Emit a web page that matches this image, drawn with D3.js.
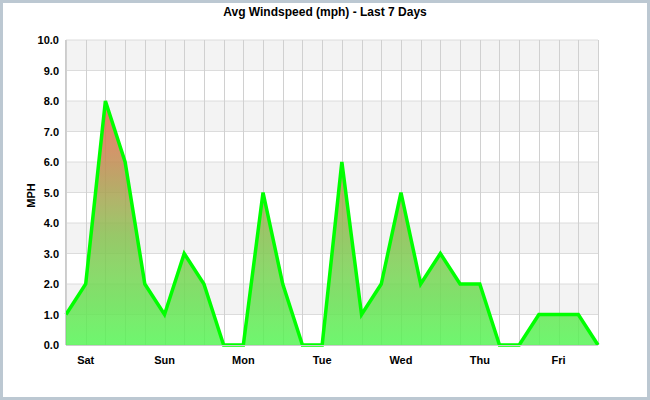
<!DOCTYPE html>
<meta charset="utf-8">
<title>Avg Windspeed</title>
<style>
body { margin: 0; }
svg { font-family: "Liberation Sans", Arial, sans-serif; }
</style>
<body>
<script src="https://cdn.jsdelivr.net/npm/d3@7"></script>
<script>

var speeds = [1, 2, 8, 6, 2, 1, 3, 2, 0, 0, 5, 2, 0, 0, 6, 1, 2, 5, 2, 3, 2, 2, 0, 0, 1, 1, 1, 0];
var days = ["Sat", "Sun", "Mon", "Tue", "Wed", "Thu", "Fri"];
var yTicks = [0, 1, 2, 3, 4, 5, 6, 7, 8, 9, 10];

var W = 650, H = 400,
    m = {top: 40, right: 50, bottom: 55, left: 66};

var svg = d3.select("body").append("svg").attr("width", W).attr("height", H);

svg.append("rect").attr("x", 1.5).attr("y", 1.5).attr("width", W - 3).attr("height", H - 3)
    .attr("fill", "#fff").attr("stroke", "#bcc8d2").attr("stroke-width", 3);

var x = d3.scaleLinear().domain([0, speeds.length - 1]).range([m.left, W - m.right - 2]);
var y = d3.scaleLinear().domain([0, 10]).range([H - m.bottom, m.top]);

// alternating bands
svg.selectAll(".band").data(d3.range(1, 10, 2)).enter().append("rect")
    .attr("x", m.left).attr("width", x.range()[1] - m.left)
    .attr("y", function(d) { return y(d + 1); })
    .attr("height", function(d) { return y(d) - y(d + 1); })
    .attr("fill", "#f3f3f3");

// grid
svg.selectAll(".hg").data(yTicks).enter().append("line")
    .attr("x1", m.left).attr("x2", x.range()[1])
    .attr("y1", function(d) { return y(d); }).attr("y2", function(d) { return y(d); })
    .attr("stroke", "#dcdcdc");
svg.selectAll(".vg").data(d3.range(speeds.length)).enter().append("line")
    .attr("x1", function(d) { return Math.round(x(d)) + 0.5; })
    .attr("x2", function(d) { return Math.round(x(d)) + 0.5; })
    .attr("y1", y(10)).attr("y2", y(0))
    .attr("stroke", "#d0d0d0");

var grad = svg.append("defs").append("linearGradient").attr("id", "g")
    .attr("gradientUnits", "userSpaceOnUse")
    .attr("x1", 0).attr("x2", 0).attr("y1", y(0)).attr("y2", y(8));
grad.append("stop").attr("offset", "0%").attr("stop-color", "#55f555");
grad.append("stop").attr("offset", "45%").attr("stop-color", "#88c050");
grad.append("stop").attr("offset", "100%").attr("stop-color", "#f06050");

svg.append("path").datum(speeds)
    .attr("d", d3.area().x(function(d, i) { return x(i); }).y0(y(0)).y1(function(d) { return y(d); }))
    .attr("fill", "url(#g)").attr("opacity", 0.85);

svg.append("path").datum(speeds)
    .attr("d", d3.line().x(function(d, i) { return x(i); }).y(function(d) { return y(d); }))
    .attr("fill", "none").attr("stroke", "#00ff00").attr("stroke-width", 3.5)
    .attr("stroke-linejoin", "miter");

// axes
svg.append("line").attr("x1", m.left).attr("x2", x.range()[1]).attr("y1", y(0) + 0.5).attr("y2", y(0) + 0.5)
    .attr("stroke", "#ccc");
svg.append("line").attr("x1", m.left - 0.5).attr("x2", m.left - 0.5).attr("y1", y(10)).attr("y2", y(0))
    .attr("stroke", "#ccc");

svg.selectAll(".yl").data(yTicks).enter().append("text")
    .attr("x", m.left - 7).attr("y", function(d) { return y(d) + 4; })
    .attr("text-anchor", "end").attr("font-size", 11).attr("font-weight", "bold")
    .text(function(d) { return d.toFixed(1); });

svg.selectAll(".xl").data(days).enter().append("text")
    .attr("x", function(d, i) { return x(1 + i * 4); }).attr("y", y(0) + 19)
    .attr("text-anchor", "middle").attr("font-size", 11).attr("font-weight", "bold")
    .text(function(d) { return d; });

svg.append("text").attr("transform", "translate(35," + (y(5) + 3) + ") rotate(-90)")
    .attr("text-anchor", "middle").attr("font-size", 11).attr("font-weight", "bold").text("MPH");

svg.append("text").attr("x", 325).attr("y", 16).attr("text-anchor", "middle")
    .attr("font-size", 12).attr("font-weight", "bold").text("Avg Windspeed (mph) - Last 7 Days");

</script>
